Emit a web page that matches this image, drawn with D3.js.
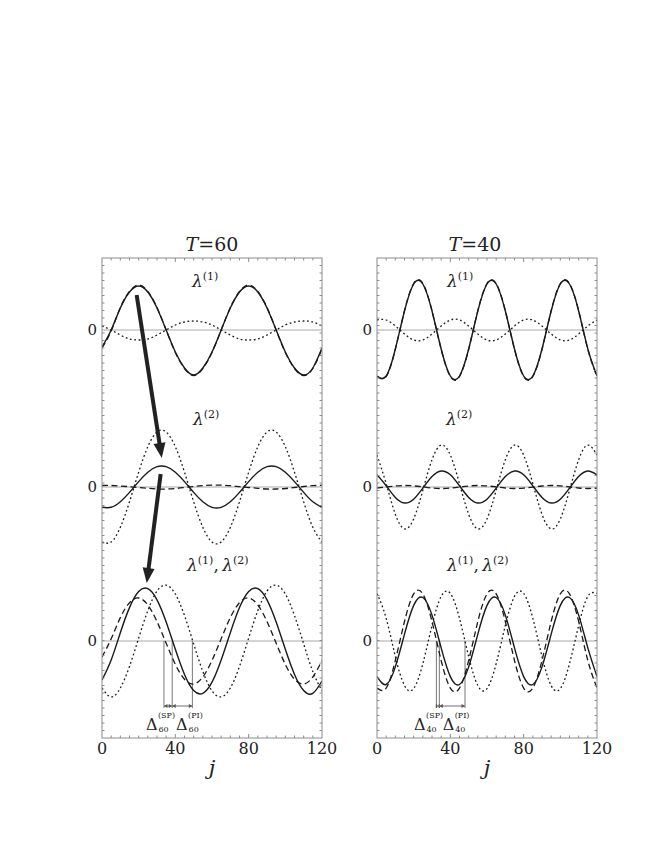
<!DOCTYPE html>
<html><head><meta charset="utf-8">
<script src="https://cdn.jsdelivr.net/npm/d3@7"></script>
<style>
body{margin:0;background:#fff}
svg text{font-family:"DejaVu Serif",serif;fill:#222}
</style>
</head><body>
<svg id="c" width="664" height="860" xmlns="http://www.w3.org/2000/svg"></svg>
<script>
// ---------------- DATA ----------------
const jValues = [0,5,10,15,20,25,30,35,40,45,50,55,60,65,70,75,80,85,90,95,100,105,110,115,120];
const xTickLabels = [0,40,80,120];
const periods = ["60","40"];
const rowLabels = [["(1)"],["(2)"],["(1)","(2)"]];

// T = 60
const t60_top_solid  = [-17,0,22,38,44,38,22,0,-22,-38,-45,-38,-22,0,22,38,44,38,22,0,-22,-38,-45,-38,-18];
const t60_top_dashed = [-18,-1,22.5,38.5,45,38.5,22.5,0,-22.5,-38.5,-45.5,-38.5,-22.5,0,22.5,38.5,45,38.5,22.5,0,-22.5,-38.5,-45.5,-38.5,-19];
const t60_top_dotted = [4,0,-5,-9,-10,-9,-5,0,5,8,9,8,5,0,-5,-9,-10,-9,-5,0,5,8,9,8,4];
const t60_mid_solid  = [-20.3,-20.3,-14.8,-5.4,5.4,14.8,20.3,20.3,14.8,5.4,-5.4,-14.8,-20.3,-20.3,-14.8,-5.4,5.4,14.8,20.3,20.3,14.8,5.4,-5.4,-14.8,-20.3];
const t60_mid_dashed = [1.5,1.5,1,0.3,-0.5,-1.3,-2,-2,-1.5,-0.5,0.5,1.3,1.8,1.8,1.3,0.3,-0.5,-1.3,-2,-2,-1.5,-0.5,0.5,1.3,1.8];
const t60_mid_dotted = [-55,-55,-40.3,-14.8,14.8,40.3,55,55,40.3,14.8,-14.8,-40.3,-55,-55,-40.3,-14.8,14.8,40.3,55,55,40.3,14.8,-14.8,-40.3,-55];
const t60_bot_solid  = [-39,-19,8.3,33.4,49.5,52.3,41.2,19,-8.3,-33.4,-49.5,-52.3,-41.2,-19,8.3,33.4,49.5,52.3,41.2,19,-8.3,-33.4,-49.5,-52.3,-40];
const t60_bot_dashed = [-16,2.2,23.4,38.3,43,36,19.5,-2.2,-23.4,-38.3,-43,-36,-19.5,2.2,23.4,38.3,43,36,19.5,-2.2,-23.4,-38.3,-43,-36,-19.5];
const t60_bot_dotted = [-47,-55.9,-47,-25.4,2.9,30.5,49.9,55.9,47,25.4,-2.9,-30.5,-49.9,-55.9,-47,-25.4,2.9,30.5,49.9,55.9,47,25.4,-2.9,-30.5,-49.9];

// T = 40
const t40_top_solid  = [-46,-46,-19,19,46,46,19,-19,-46,-46,-19,19,46,46,19,-19,-46,-46,-19,19,46,46,19,-19,-46];
const t40_top_dashed = [-46.5,-46.5,-19.3,19.3,46.5,46.5,19.3,-19.3,-46.5,-46.5,-19.3,19.3,46.5,46.5,19.3,-19.3,-46.5,-46.5,-19.3,19.3,46.5,46.5,19.3,-19.3,-46.5];
const t40_top_dotted = [10,10,4,-4,-10,-10,-4,4,10,10,4,-4,-10,-10,-4,4,10,10,4,-4,-10,-10,-4,4,10];
const t40_mid_solid  = [12.2,1.2,-10.4,-16,-12.2,-1.2,10.4,16,12.2,1.2,-10.4,-16,-12.2,-1.2,10.4,16,12.2,1.2,-10.4,-16,-12.2,-1.2,10.4,16,12.2];
const t40_mid_dashed = [-1.1,-0.1,1,1.5,1.1,0.1,-1,-1.5,-1.1,-0.1,1,1.5,1.1,0.1,-1,-1.5,-1.1,-0.1,1,1.5,1.1,0.1,-1,-1.5,-1.1];
const t40_mid_dotted = [31.9,3.3,-27.3,-41.9,-31.9,-3.3,27.3,41.9,31.9,3.3,-27.3,-41.9,-31.9,-3.3,27.3,41.9,31.9,3.3,-27.3,-41.9,-31.9,-3.3,27.3,41.9,31.9];
const t40_bot_solid  = [-35.6,-43.5,-25.9,6.9,35.6,43.5,25.9,-6.9,-35.6,-43.5,-25.9,6.9,35.6,43.5,25.9,-6.9,-35.6,-43.5,-25.9,6.9,35.6,43.5,25.9,-6.9,-35.6];
const t40_bot_dashed = [-47.1,-47.1,-19.5,19.5,47.1,47.1,19.5,-19.5,-47.1,-47.1,-19.5,19.5,47.1,47.1,19.5,-19.5,-47.1,-47.1,-19.5,19.5,47.1,47.1,19.5,-19.5,-47.1];
const t40_bot_dotted = [47.6,22.7,-15.5,-44.6,-47.6,-22.7,15.5,44.6,47.6,22.7,-15.5,-44.6,-47.6,-22.7,15.5,44.6,47.6,22.7,-15.5,-44.6,-47.6,-22.7,15.5,44.6,47.6];

// zero-crossing markers (dashed, solid, dotted) in the bottom rows
const t60_crossings = [33.8, 38.3, 49.3];
const t40_crossings = [32.4, 34.0, 48.0];
const deltaLabels = ["SP","PI"];

// big arrows in the T=60 panel: [j, value] start -> end (value incl. row offset)
const arrowStarts = [[18.9, 35], [32.0, -144]];
const arrowEnds   = [[32.6, -128], [24.4, -253]];

// ---------------- LAYOUT ----------------
const svg = d3.select("#c");
const panelTop = 258, panelH = 480, panelW = 220;
const rowOffsets = [0, -157, -311];
const panels = [
  {left:102, T:periods[0], rows:[[t60_top_solid,t60_top_dashed,t60_top_dotted],[t60_mid_solid,t60_mid_dashed,t60_mid_dotted],[t60_bot_solid,t60_bot_dashed,t60_bot_dotted]],
   cross:t60_crossings, labelX:[192,193,187], titleX:212, deltaX:[24,40.4], arrows:true},
  {left:377, T:periods[1], rows:[[t40_top_solid,t40_top_dashed,t40_top_dotted],[t40_mid_solid,t40_mid_dashed,t40_mid_dotted],[t40_bot_solid,t40_bot_dashed,t40_bot_dotted]],
   cross:t40_crossings, labelX:[447,446,447], titleX:475, deltaX:[20.2,35.8], arrows:false}
];
const labelBaselines = [287, 425, 571];
const styles = [
  {dash:null, w:1.4},
  {dash:"6,3.5", w:1.3},
  {dash:"1.8,2.6", w:1.3}
];

panels.forEach((p, pi) => {
  const g = svg.append("g");
  const x = d3.scaleLinear().domain([0,120]).range([p.left, p.left+panelW]);
  const y = d3.scaleLinear().domain([-408,72]).range([panelTop+panelH, panelTop]);

  const cid = "clip"+pi;
  svg.append("clipPath").attr("id",cid).append("rect")
    .attr("x",x(0)).attr("y",panelTop).attr("width",panelW).attr("height",panelH);

  rowOffsets.forEach(off => {
    g.append("line").attr("x1",x(0)).attr("x2",x(120)).attr("y1",y(off)).attr("y2",y(off))
      .attr("stroke","#a8a8a8").attr("stroke-width",1);
    g.append("text").attr("x",x(0)-5).attr("y",y(off)+5).attr("text-anchor","end")
      .attr("font-size",15).text("0");
  });

  const bot = rowOffsets[2];
  p.cross.forEach(c => {
    g.append("line").attr("x1",x(c)).attr("x2",x(c)).attr("y1",y(bot)).attr("y2",y(bot-67))
      .attr("stroke","#555").attr("stroke-width",0.8);
  });
  for (let k=0;k<2;k++){
    const a = x(p.cross[k]), b = x(p.cross[k+1]), yy = y(bot-65);
    g.append("line").attr("x1",a).attr("x2",b).attr("y1",yy).attr("y2",yy)
      .attr("stroke","#888").attr("stroke-width",1.2);
    g.append("path").attr("d",`M${a},${yy}l3.5,-2l0,4z M${b},${yy}l-3.5,-2l0,4z`).attr("fill","#555");
  }

  const cg = g.append("g").attr("clip-path",`url(#${cid})`);
  p.rows.forEach((row, ri) => {
    row.forEach((series, si) => {
      const line = d3.line().x((d,i)=>x(jValues[i])).y(d=>y(d+rowOffsets[ri])).curve(d3.curveNatural);
      const path = cg.append("path").attr("d",line(series)).attr("fill","none")
        .attr("stroke","#1a1a1a").attr("stroke-width",styles[si].w);
      if (styles[si].dash) path.attr("stroke-dasharray",styles[si].dash);
    });
  });

  g.append("rect").attr("x",x(0)).attr("y",panelTop).attr("width",panelW).attr("height",panelH)
    .attr("fill","none").attr("stroke","#8c8c8c").attr("stroke-width",1);
  d3.range(5,120,5).forEach(t => {
    const len = (t%40===0)?4:2.5;
    g.append("line").attr("x1",x(t)).attr("x2",x(t)).attr("y1",panelTop).attr("y2",panelTop+len).attr("stroke","#8c8c8c");
    g.append("line").attr("x1",x(t)).attr("x2",x(t)).attr("y1",panelTop+panelH).attr("y2",panelTop+panelH-len).attr("stroke","#8c8c8c");
  });
  d3.range(72-7.5,-408,-7.5).forEach(v => {
    g.append("line").attr("x1",x(0)).attr("x2",x(0)+2.5).attr("y1",y(v)).attr("y2",y(v)).attr("stroke","#8c8c8c");
    g.append("line").attr("x1",x(120)).attr("x2",x(120)-2.5).attr("y1",y(v)).attr("y2",y(v)).attr("stroke","#8c8c8c");
  });

  xTickLabels.forEach(t => {
    g.append("text").attr("x",x(t)).attr("y",754).attr("text-anchor","middle")
      .attr("font-size",16).text(t);
  });
  g.append("text").attr("x",x(60)).attr("y",775).attr("text-anchor","middle")
    .attr("font-style","italic").attr("font-size",21).text("j");

  const tt = g.append("text").attr("x",p.titleX).attr("y",251).attr("text-anchor","middle")
    .attr("font-size",19);
  tt.append("tspan").attr("font-style","italic").text("T");
  tt.append("tspan").text("=" + p.T);

  rowLabels.forEach((labs, ri) => {
    const t = g.append("text").attr("x",p.labelX[ri]).attr("y",labelBaselines[ri])
      .attr("font-size",17);
    labs.forEach((lb, li) => {
      if (li>0) t.append("tspan").attr("dy",7).attr("font-size",17).text(",\u2009");
      t.append("tspan").attr("font-style","italic").attr("font-size",17).text("λ");
      t.append("tspan").attr("dy",-7).attr("font-size",11).text(lb);
    });
  });

  deltaLabels.forEach((dl, k) => {
    const lx = x(p.deltaX[k]);
    g.append("text").attr("x",lx).attr("y",730).attr("font-size",16).text("Δ");
    g.append("text").attr("x",lx+12).attr("y",718).attr("font-size",8).text("("+dl+")");
    g.append("text").attr("x",lx+12.5).attr("y",732).attr("font-size",8).text(p.T);
  });

  if (p.arrows) {
    arrowStarts.forEach((s, k) => {
      const e = arrowEnds[k];
      const x1 = x(s[0]), y1 = y(s[1]), x2 = x(e[0]), y2 = y(e[1]);
      const L = Math.hypot(x2-x1,y2-y1), ux=(x2-x1)/L, uy=(y2-y1)/L, nx=-uy, ny=ux;
      const hl=15, hw=6;
      g.append("line").attr("x1",x1).attr("y1",y1).attr("x2",x2-ux*(hl-2)).attr("y2",y2-uy*(hl-2))
        .attr("stroke","#222").attr("stroke-width",4);
      g.append("path").attr("d",`M${x2},${y2}L${x2-ux*hl+nx*hw},${y2-uy*hl+ny*hw}L${x2-ux*hl-nx*hw},${y2-uy*hl-ny*hw}Z`)
        .attr("fill","#222");
    });
  }
});
</script>
</body></html>
